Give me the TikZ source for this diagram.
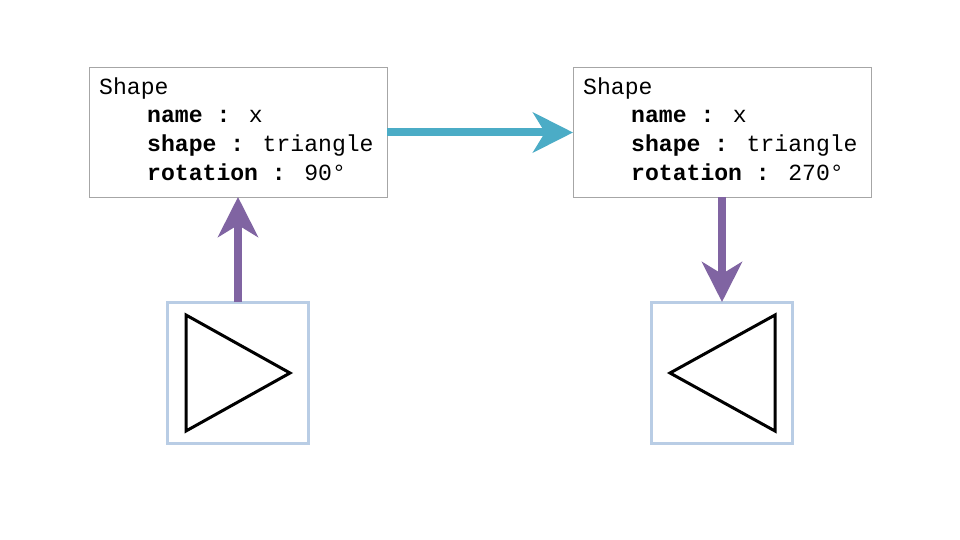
\documentclass[tikz,border=0pt]{standalone}
\usepackage{fontspec}
\setmainfont{Liberation Mono}
\usetikzlibrary{arrows.meta}
\definecolor{boxgray}{HTML}{A6A6A6}
\definecolor{arrteal}{HTML}{4BACC6}
\definecolor{arrpurple}{HTML}{8064A2}
\definecolor{sqblue}{HTML}{B9CDE5}
\begin{document}
\begin{tikzpicture}[x=1pt,y=-1pt,
  classbox/.style={draw=boxgray, line width=1pt, minimum width=298pt, minimum height=129pt, inner sep=0pt, outer sep=0pt},
  txt/.style={anchor=base west, inner sep=0pt, font=\fontsize{23.1pt}{28.5pt}\selectfont},
  imgbox/.style={draw=sqblue, line width=3pt, minimum size=141pt, inner sep=0pt, outer sep=0pt},
  tri/.style={draw=black, line width=3pt, line join=miter},
  flow/.style={line width=8pt, -{Stealth[length=40pt,width=40pt,inset=12pt]}},
]
\useasboundingbox (0,0) rectangle (960,540);
\fill[white] (0,0) rectangle (960,540);
% class boxes
\node[classbox] (lbox) at (238,132.5) {};
\node[classbox] (rbox) at (722,132.5) {};
\node[txt] (l1) at (99,94.5) {Shape};
\node[txt] (l2) at (147,123) {\textbf{name :} x};
\node[txt] (l3) at (147,151.5) {\textbf{shape :} triangle};
\node[txt] (l4) at (147,180) {\textbf{rotation :} 90°};
\node[txt] (r1) at (583,94.5) {Shape};
\node[txt] (r2) at (631,123) {\textbf{name :} x};
\node[txt] (r3) at (631,151.5) {\textbf{shape :} triangle};
\node[txt] (r4) at (631,180) {\textbf{rotation :} 270°};
% image squares
\node[imgbox] (lsq) at (238,372.5) {};
\node[imgbox] (rsq) at (722,372.5) {};
\draw[tri] (186,315) -- (186,431) -- (290,373) -- cycle;
\draw[tri] (775,315) -- (775,431) -- (670,373) -- cycle;
% arrows
\draw[flow, arrteal] (lbox.east) -- (rbox.west);
\draw[flow, arrpurple] (lsq.north) -- (lbox.south);
\draw[flow, arrpurple] (rbox.south) -- (rsq.north);
\end{tikzpicture}
\end{document}
